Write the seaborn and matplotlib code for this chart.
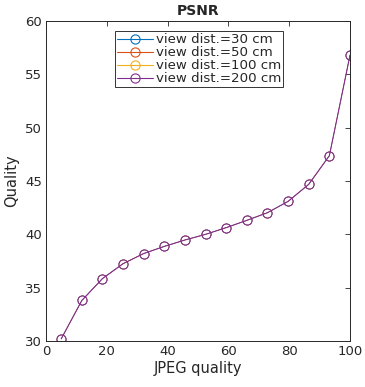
import matplotlib
matplotlib.use("Agg")
import matplotlib.pyplot as plt
import seaborn as sns
import numpy as np

# JPEG quality levels and PSNR values (all viewing distances overlap)
jpeg_quality = [5.0, 11.79, 18.57, 25.36, 32.14, 38.93, 45.71, 52.5,
                59.29, 66.07, 72.86, 79.64, 86.43, 93.21, 100.0]
psnr = [30.2, 33.8, 35.85, 37.25, 38.2, 38.87, 39.47, 40.0,
        40.63, 41.31, 42.03, 43.09, 44.69, 47.37, 56.8]
distances = ["view dist.=30 cm", "view dist.=50 cm",
             "view dist.=100 cm", "view dist.=200 cm"]
colors = ["#0072BD", "#D95319", "#EDB120", "#7E2F8E"]

sns.set_style("white")
plt.rcParams["font.family"] = ["DejaVu Sans"]

fig = plt.figure(figsize=(3.65, 3.87), dpi=100)
ax = fig.add_axes([46 / 365, 1 - 341 / 387, 304 / 365, 320 / 387])

for name, c in zip(distances, colors):
    sns.lineplot(x=jpeg_quality, y=psnr, ax=ax, color=c, label=name,
                 marker="o", markersize=6.6, markerfacecolor="none",
                 markeredgecolor=c, markeredgewidth=0.8, linewidth=0.8)

ax.set_xlim(0, 100)
ax.set_ylim(30, 60)
ax.set_xticks(np.arange(0, 101, 20))
ax.set_yticks(np.arange(30, 61, 5))
ax.tick_params(direction="in", top=True, right=True, length=3.5,
               width=0.6, labelsize=9.5, colors="#262626",
               labelcolor="#262626", pad=3)
for s in ax.spines.values():
    s.set_color("#262626")
    s.set_linewidth(0.7)
ax.set_xlabel("JPEG quality", fontsize=10.5, color="#262626", labelpad=2)
ax.set_ylabel("Quality", fontsize=10.5, color="#262626", labelpad=4)
ax.set_title("PSNR", fontsize=10, fontweight="bold", pad=4)

leg = ax.legend(loc="upper left", bbox_to_anchor=(0.228, 0.968),
                fontsize=9.6, frameon=True, fancybox=False,
                borderpad=0.15, labelspacing=0.0, handlelength=2.7,
                handletextpad=0.2, borderaxespad=0)
leg.get_frame().set_edgecolor("black")
leg.get_frame().set_linewidth(0.7)

# hidden series sit under the last one; keep them thin so it stays clean
for line in ax.lines[:-1]:
    line.set_linewidth(0.3)
    line.set_markeredgewidth(0.3)

fig.savefig("out.png", dpi=100)
